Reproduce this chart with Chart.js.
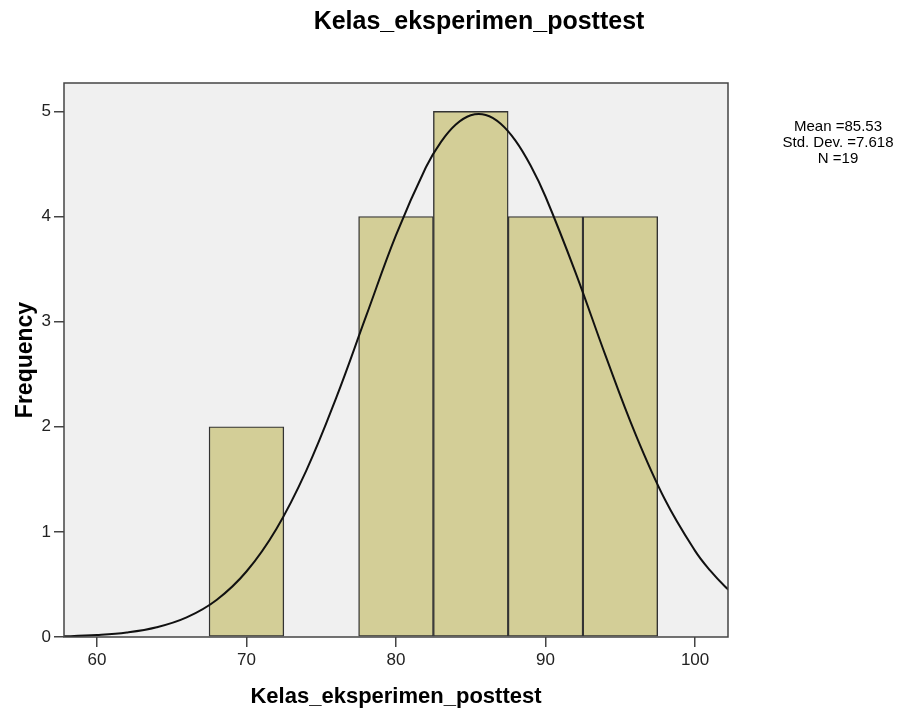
<!DOCTYPE html>
<html>
<head>
<meta charset="utf-8">
<script src="https://cdn.jsdelivr.net/npm/chart.js@4"></script>
<style>
  html, body { margin: 0; padding: 0; background: #ffffff; }
  #wrap { width: 912px; height: 715px; }
</style>
</head>
<body>
<div id="wrap"><canvas id="histChart" width="912" height="715"></canvas></div>
<script>
// histogram bins (width 5)
const binCenters = [70, 80, 85, 90, 95];
const frequencies = [2, 4, 5, 4, 4];

// normal curve
const curveX = [56, 58, 60, 62, 64, 66, 68, 70, 72, 74, 76, 78, 80, 82, 83, 84, 85, 86, 87, 88, 89, 90, 92, 94, 96, 98, 100, 101, 102, 103];
const curveY = [0.003, 0.007, 0.018, 0.042, 0.092, 0.186, 0.352, 0.623, 1.028, 1.583, 2.275, 3.052, 3.823, 4.469, 4.708, 4.875, 4.963, 4.966, 4.883, 4.720, 4.485, 4.188, 3.469, 2.681, 1.935, 1.303, 0.819, 0.633, 0.481, 0.359];

const xTicks = [60, 70, 80, 90, 100];
const yTicks = [0, 1, 2, 3, 4, 5];

const chartTitle = 'Kelas_eksperimen_posttest';
const statLines = ['Mean =85.53', 'Std. Dev. =7.618', 'N =19'];

const FONT = "Arial, 'Liberation Sans', sans-serif";

const frame = {
    id: 'frame',
    beforeDatasetsDraw(chart) {
        const { ctx, chartArea: a } = chart;
        ctx.save();
        ctx.fillStyle = '#f0f0f0';
        ctx.fillRect(a.left, a.top, a.right - a.left, a.bottom - a.top);
        ctx.restore();
    },
    afterDraw(chart) {
        const { ctx, chartArea: a } = chart;
        ctx.save();
        ctx.strokeStyle = '#444444';
        ctx.lineWidth = 1.5;
        ctx.strokeRect(a.left, a.top, a.right - a.left, a.bottom - a.top);

        ctx.fillStyle = '#000000';
        ctx.textAlign = 'center';
        ctx.textBaseline = 'alphabetic';
        ctx.font = 'bold 25px ' + FONT;
        ctx.fillText(chartTitle, 479, 29);

        ctx.font = '15px ' + FONT;
        statLines.forEach((t, i) => ctx.fillText(t, 838, 131 + i * 16));
        ctx.restore();
    }
};

const ctx = document.getElementById('histChart').getContext('2d');
new Chart(ctx, {
    type: 'bar',
    data: {
        datasets: [
            {
                type: 'line',
                data: curveX.map((x, i) => ({ x: x, y: curveY[i] })),
                borderColor: '#111111',
                borderWidth: 2,
                pointRadius: 0,
                tension: 0.4,
                fill: false,
                order: 0
            },
            {
                type: 'bar',
                data: binCenters.map((x, i) => ({ x: x, y: frequencies[i] })),
                backgroundColor: '#d3ce97',
                borderColor: '#333333',
                borderWidth: 1.4,
                borderSkipped: false,
                categoryPercentage: 1.0,
                barPercentage: 1.0,
                order: 1
            }
        ]
    },
    options: {
        responsive: false,
        animation: false,
        layout: { padding: { top: 83, right: 184, left: 0, bottom: 0 } },
        plugins: {
            legend: { display: false },
            tooltip: { enabled: false },
            title: { display: false }
        },
        scales: {
            x: {
                type: 'linear',
                min: 57.8,
                max: 102.2,
                offset: false,
                afterBuildTicks: s => { s.ticks = xTicks.map(v => ({ value: v })); },
                afterFit: s => { s.height = 78; },
                border: { display: false },
                grid: { offset: false, drawOnChartArea: false, drawTicks: true, tickLength: 10, color: '#444444', lineWidth: 1.5 },
                ticks: { color: '#222222', padding: 3, font: { family: FONT, size: 17 } },
                title: {
                    display: true,
                    text: 'Kelas_eksperimen_posttest',
                    color: '#000000',
                    font: { family: FONT, size: 22, weight: 'bold' },
                    padding: { top: 0, bottom: 5 }
                }
            },
            y: {
                type: 'linear',
                min: 0,
                max: 5.27,
                afterBuildTicks: s => { s.ticks = yTicks.map(v => ({ value: v })); },
                afterFit: s => { s.width = 64; },
                border: { display: false },
                grid: { drawOnChartArea: false, drawTicks: true, tickLength: 10, color: '#444444', lineWidth: 1.5 },
                ticks: { color: '#222222', padding: 3, font: { family: FONT, size: 17 } },
                title: {
                    display: true,
                    text: 'Frequency',
                    color: '#000000',
                    font: { family: FONT, size: 23, weight: 'bold' },
                    padding: { top: 12, bottom: 0 }
                }
            }
        }
    },
    plugins: [frame]
});
</script>
</body>
</html>
